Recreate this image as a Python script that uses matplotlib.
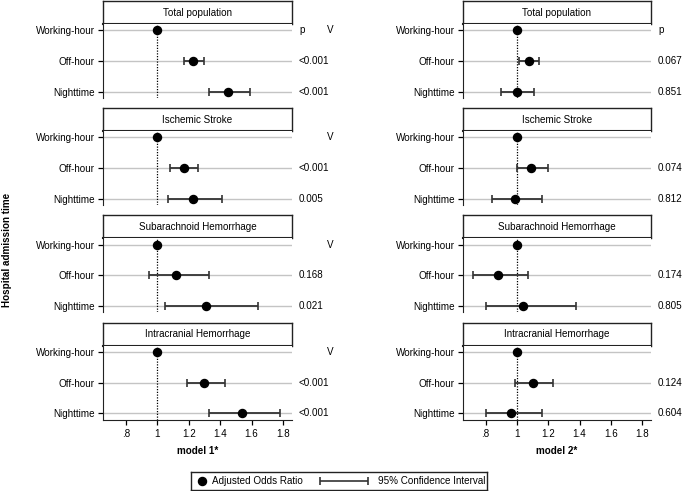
import numpy as np
import matplotlib
matplotlib.use('Agg')
import matplotlib.pyplot as plt
from matplotlib.transforms import blended_transform_factory

plt.rcParams['font.family'] = ['Liberation Sans', 'DejaVu Sans']

# ── data ─────────────────────────────────────────────
groups = ['Total population', 'Ischemic Stroke', 'Subarachnoid Hemorrhage', 'Intracranial Hemorrhage']
rows = ['Working-hour', 'Off-hour', 'Nighttime']
nan = np.nan

m1_or = [[1, 1.23, 1.45], [1, 1.17, 1.23], [1, 1.12, 1.31], [1, 1.30, 1.54]]
m1_lo = [[nan, 1.17, 1.33], [nan, 1.08, 1.07], [nan, 0.95, 1.05], [nan, 1.19, 1.33]]
m1_hi = [[nan, 1.30, 1.59], [nan, 1.26, 1.41], [nan, 1.33, 1.64], [nan, 1.43, 1.78]]
m1_p = [['', '<0.001', '<0.001'], ['', '<0.001', '0.005'], ['', '0.168', '0.021'], ['', '<0.001', '<0.001']]

m2_or = [[1, 1.08, 1.00], [1, 1.09, 0.99], [1, 0.88, 1.04], [1, 1.10, 0.96]]
m2_lo = [[nan, 1.01, 0.90], [nan, 1.00, 0.84], [nan, 0.72, 0.80], [nan, 0.99, 0.80]]
m2_hi = [[nan, 1.14, 1.11], [nan, 1.20, 1.16], [nan, 1.07, 1.38], [nan, 1.23, 1.16]]
m2_p = [['', '0.067', '0.851'], ['', '0.074', '0.812'], ['', '0.174', '0.805'], ['', '0.124', '0.604']]

xticks = [0.8, 1.0, 1.2, 1.4, 1.6, 1.8]
xticklabels = ['.8', '1', '1.2', '1.4', '1.6', '1.8']

# ── layout (pixels) ──────────────────────────────────
W, H = 682, 491
FS = 7.1


def box(x0, y0, w, h):
    return [x0 / W, 1 - (y0 + h) / H, w / W, h / H]


fig = plt.figure(figsize=(W / 100, H / 100), dpi=100)

columns = [
    dict(x0=103, w=189, o=m1_or, lo=m1_lo, hi=m1_hi, p=m1_p, xlabel='model 1*', vcol=True),
    dict(x0=463, w=188, o=m2_or, lo=m2_lo, hi=m2_hi, p=m2_p, xlabel='model 2*', vcol=False),
]

for col in columns:
    for g, name in enumerate(groups):
        top = 1 + 107.2 * g
        # strip
        sax = fig.add_axes(box(col['x0'], top, col['w'], 23))
        sax.set_xticks([]); sax.set_yticks([])
        for s in sax.spines.values():
            s.set_color('#222222'); s.set_linewidth(1.0)
        sax.spines['bottom'].set_linewidth(1.5)
        sax.text(0.5, 0.5, name, ha='center', va='center', fontsize=FS, transform=sax.transAxes)

        # panel
        ax = fig.add_axes(box(col['x0'], top + 23, col['w'], 74))
        ax.set_xlim(0.655, 1.857)
        ax.set_ylim(2.2, -0.2)
        for s in ['top', 'right']:
            ax.spines[s].set_visible(False)
        ax.spines['left'].set_color('#222222')
        last = g == len(groups) - 1
        ax.spines['bottom'].set_visible(last)
        ax.spines['bottom'].set_color('#222222')

        y = np.arange(len(rows))
        o = np.array(col['o'][g], dtype=float)
        lo = np.array(col['lo'][g], dtype=float)
        hi = np.array(col['hi'][g], dtype=float)

        for yy in y:
            ax.axhline(yy, color='#c4c4c4', lw=1.0, zorder=0)
        ax.axvline(1, color='black', ls=(0, (1, 1.2)), lw=0.9, zorder=1)

        m = ~np.isnan(lo)
        ax.errorbar(o[m], y[m], xerr=[o[m] - lo[m], hi[m] - o[m]], fmt='none',
                    ecolor='#333333', elinewidth=1.3, capsize=2.6, capthick=1.2, zorder=2)
        ax.plot(o, y, 'o', color='black', markersize=5.8, zorder=3)

        ax.set_yticks(y)
        ax.set_yticklabels(rows, fontsize=FS)
        ax.tick_params(axis='y', length=3.5, width=0.9, pad=2.5)

        if last:
            ax.set_xticks(xticks)
            ax.set_xticklabels(xticklabels, fontsize=FS)
            ax.tick_params(axis='x', length=3.5, width=0.9, pad=3.5)
            ax.set_xlabel(col['xlabel'], fontsize=FS, fontweight='bold', labelpad=5)
        else:
            ax.set_xticks([])

        tr = blended_transform_factory(ax.transAxes, ax.transData)
        for yy, pv in zip(y, col['p'][g]):
            if pv:
                ax.text(1.037, yy, pv, ha='left', va='center', fontsize=FS, transform=tr)
        if g == 0:
            ax.text(1.037, 0, 'p', ha='left', va='center', fontsize=FS, transform=tr)
        if col['vcol']:
            ax.text(1.2, 0, 'V', ha='center', va='center', fontsize=FS, transform=tr)

fig.text(7 / W, 1 - 250 / H, 'Hospital admission time', rotation=90, ha='center', va='center',
         fontsize=FS, fontweight='bold')

# ── legend ───────────────────────────────────────────
lax = fig.add_axes(box(191, 472, 296, 18))
lax.set_xlim(0, 296); lax.set_ylim(0, 18)
lax.set_xticks([]); lax.set_yticks([])
for s in lax.spines.values():
    s.set_color('#222222'); s.set_linewidth(1.0)
lax.plot([11], [9], 'o', color='black', markersize=5.8)
lax.text(21, 9, 'Adjusted Odds Ratio', ha='left', va='center', fontsize=FS)
lax.errorbar([153], [9], xerr=[[24], [24]], fmt='none', ecolor='#333333',
             elinewidth=1.2, capsize=2.6, capthick=1.2)
lax.text(187, 9, '95% Confidence Interval', ha='left', va='center', fontsize=FS)

fig.savefig('out.png', dpi=100)
